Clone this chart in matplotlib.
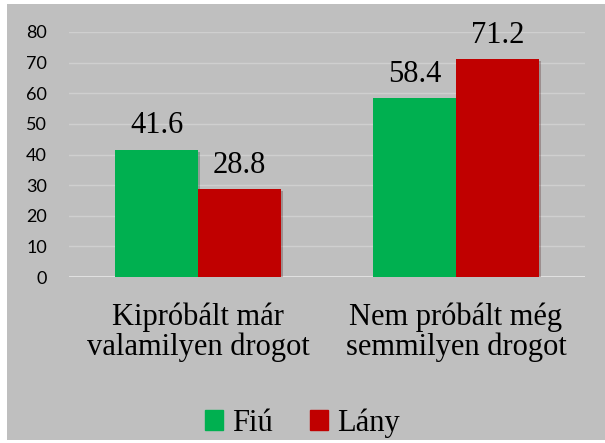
import matplotlib.pyplot as plt
from matplotlib.patches import Rectangle, Patch
import matplotlib.patheffects as pe
import numpy as np

# data
categories = ['Kipróbált már\nvalamilyen drogot', 'Nem próbált még\nsemmilyen drogot']
fiu = [41.6, 58.4]
lany = [28.8, 71.2]
series_names = ['Fiú', 'Lány']
yticks = [0, 10, 20, 30, 40, 50, 60, 70, 80]

green = '#00b050'
red = '#c00000'
panel = '#bfbfbf'

plt.rcParams['font.family'] = ['Liberation Serif', 'DejaVu Serif']

fig = plt.figure(figsize=(6.05, 4.43), dpi=100)
fig.patch.set_facecolor('white')
# gray chart area
fig.patches.append(Rectangle((7/605, 3/443), 598/605, 436/443, transform=fig.transFigure,
                             facecolor=panel, edgecolor='none', zorder=-5))

ax = fig.add_axes([69/605, 166/443, 516/605, 245/443])
ax.set_facecolor('none')

x = np.arange(len(categories))
w = 0.32
shadow = [pe.SimplePatchShadow(offset=(1.5, -1.5), alpha=0.25), pe.Normal()]
b1 = ax.bar(x - w/2, fiu, w, color=green, zorder=3, path_effects=shadow)
b2 = ax.bar(x + w/2, lany, w, color=red, zorder=3, path_effects=shadow)

for bars, vals in ((b1, fiu), (b2, lany)):
    for r, v in zip(bars, vals):
        ax.annotate(f'{v:.1f}', (r.get_x() + r.get_width()/2, v), xytext=(0, 17),
                    textcoords='offset points', ha='center', va='center',
                    fontsize=22, color='black')

ax.set_xlim(-0.5, 1.5)
ax.set_ylim(0, 80)
ax.set_yticks(yticks)
ax.set_yticklabels([str(v) for v in yticks], family='Lato', fontsize=13)
ax.yaxis.grid(True, color='#cfcfcf', linewidth=1, zorder=0)
ax.set_axisbelow(True)
for s in ax.spines.values():
    s.set_visible(False)
ax.axhline(0, color='#e0e0e0', linewidth=2.2, zorder=2)
ax.tick_params(axis='both', length=0)
ax.tick_params(axis='y', pad=16)
ax.tick_params(axis='x', pad=18)
ax.set_xticks(x)
ax.set_xticklabels(categories, fontsize=22, linespacing=1.05)

handles = [Patch(color=green), Patch(color=red)]
fig.legend(handles=handles, labels=series_names, loc='center', bbox_to_anchor=(0.5, 20/443),
           ncol=2, frameon=False, prop={'size': 22},
           handlelength=0.6, handleheight=0.6, handletextpad=0.3, columnspacing=1.2)

fig.savefig('out.png', dpi=100)
